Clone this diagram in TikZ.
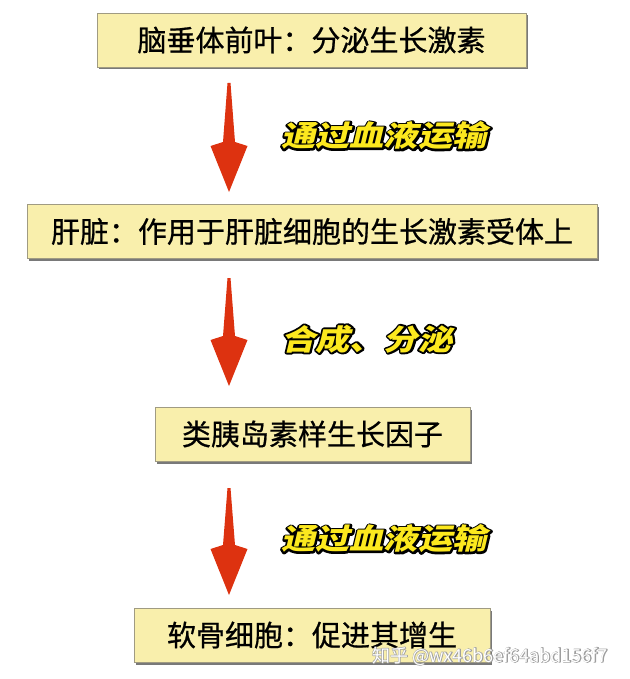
\documentclass[tikz,border=0pt]{standalone}
\usepackage{fontspec}
\usepackage{xcolor}
\usetikzlibrary{calc, shadows}
\setmainfont{Noto Sans CJK SC}[FakeBold=0.7]
\newfontfamily\labelfont[FakeSlant=0.2]{Noto Sans CJK SC}
\newfontfamily\markfont{Noto Sans CJK SC}
\definecolor{boxyellow}{RGB}{249,239,172}
\definecolor{boxedge}{RGB}{160,155,130}
\definecolor{arrowred}{RGB}{221,50,16}
\definecolor{labelyellow}{RGB}{252,232,30}
% text with a coloured fill and an outline round it: fill, stroke (rgb), width, text
\newcommand{\outlined}[4]{{\rlap{\special{pdf:literal direct #2 RG 1 j 1 Tr #3 w}#4\special{pdf:literal direct 0 Tr}}\color{#1}#4}}
% red arrow from top point to tip point
\newcommand{\flowarrow}[2]{
	\fill[arrowred] ($(#1)+(-1.5,0)$) -- ($(#1)+(1.5,0)$) -- ($(#2)+(6,-50)$)
		-- ($(#2)+(18.5,-46)$) -- (#2) -- ($(#2)+(-18.5,-46)$)
		-- ($(#2)+(-6,-50)$) -- cycle;
}
\tikzstyle{stagebox}=[draw=boxedge, line width=0.6pt, fill=boxyellow,
	inner sep=0pt, minimum height=54pt, font=\fontsize{29}{29}\selectfont,
	drop shadow={shadow xshift=2pt, shadow yshift=-2.5pt, opacity=0.7, fill=black!75}]
\tikzstyle{steplabel}=[anchor=west, inner sep=0pt, xscale=1.18,
	font=\labelfont\bfseries\fontsize{29}{29}\selectfont]

\begin{document}
\begin{tikzpicture}[x=1pt, y=-1pt]
	\useasboundingbox (0,0) rectangle (629,679);
	
	% the four stages
	\node[stagebox, minimum width=429pt] (pituitary) at (311.5,40) {脑垂体前叶：分泌生长激素};
	\node[stagebox, minimum width=570pt] (liver) at (312,231.5) {肝脏：作用于肝脏细胞的生长激素受体上};
	\node[stagebox, minimum width=315pt] (igf) at (312.5,434) {类胰岛素样生长因子};
	\node[stagebox, minimum width=356pt] (cartilage) at (312,635) {软骨细胞：促进其增生};
	
	% arrows
	\coordinate (top1) at (229,83);
	\coordinate (tip1) at (229,192);
	\coordinate (top2) at (229,278);
	\coordinate (tip2) at (229,386);
	\coordinate (top3) at (229,488);
	\coordinate (tip3) at (229,595);
	\flowarrow{top1}{tip1}
	\flowarrow{top2}{tip2}
	\flowarrow{top3}{tip3}
	
	% labels beside the arrows
	\node[steplabel] (blood1) at (281,136) {\outlined{labelyellow}{0 0 0}{3.6}{通过血液运输}};
	\node[steplabel] (secrete) at (281,339) {\outlined{labelyellow}{0 0 0}{3.6}{合成、分泌}};
	\node[steplabel] (blood2) at (281,539) {\outlined{labelyellow}{0 0 0}{3.6}{通过血液运输}};
	
	% watermark
	\node[anchor=west, inner sep=0pt, font=\markfont\fontsize{18}{18}\selectfont] (mark) at (372,656)
		{\outlined{white}{0.62 0.62 0.62}{1.2}{知乎 @wx46b6ef64abd156f7}};
\end{tikzpicture}
\end{document}
